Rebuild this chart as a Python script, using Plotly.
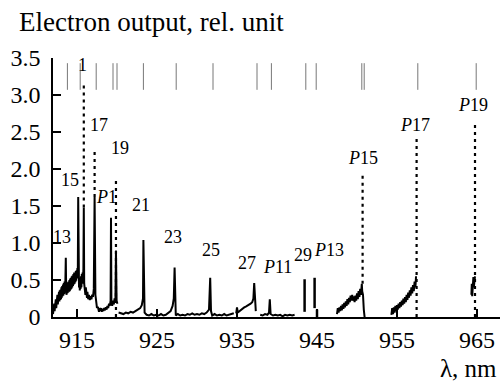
import plotly.graph_objects as go

FONT = "'Liberation Serif', 'Times New Roman', Times, serif"

# ---- spectrum segments (wavelength nm, electron output rel. unit) ----
seg_a_x = [912.00, 912.05, 912.10, 912.15, 912.20, 912.25, 912.30, 912.35, 912.40, 912.45,
           912.50, 912.55, 912.60, 912.65, 912.70, 912.75, 912.80, 912.85, 912.90, 912.95,
           913.00, 913.05, 913.10, 913.15, 913.20, 913.25, 913.30, 913.35, 913.40, 913.45,
           913.50, 913.55, 913.60, 913.65, 913.70, 913.75, 913.80, 913.85, 913.90, 913.95,
           914.00, 914.05, 914.10, 914.15, 914.20, 914.25, 914.30, 914.35, 914.40, 914.45,
           914.50, 914.55, 914.60, 914.65, 914.70, 914.75, 914.80, 914.85, 914.90, 914.95,
           915.00, 915.05, 915.10, 915.15, 915.20, 915.25, 915.30, 915.35, 915.40, 915.45,
           915.50, 915.55, 915.60, 915.65, 915.70, 915.75, 915.80, 915.85, 915.90, 915.95,
           916.00, 916.05, 916.10, 916.15, 916.20, 916.25, 916.30, 916.40, 916.50, 916.60,
           916.70, 916.80, 916.90, 917.00, 917.10, 917.20, 917.30, 917.40, 917.50]
seg_a_y = [0.04, 0.15, 0.06, 0.18, 0.08, 0.22, 0.10, 0.24, 0.12, 0.27,
           0.15, 0.30, 0.17, 0.31, 0.19, 0.34, 0.21, 0.36, 0.23, 0.37,
           0.24, 0.40, 0.26, 0.42, 0.28, 0.44, 0.29, 0.46, 0.31, 0.48,
           0.33, 0.50, 0.80, 0.34, 0.30, 0.46, 0.32, 0.47, 0.33, 0.48,
           0.34, 0.50, 0.35, 0.52, 0.37, 0.53, 0.38, 0.55, 0.40, 0.56,
           0.42, 0.58, 0.44, 0.60, 0.45, 0.60, 0.47, 0.62, 0.49, 0.63,
           0.52, 0.66, 0.55, 1.62, 0.50, 0.40, 0.52, 0.36, 0.50, 0.38,
           0.55, 0.40, 0.58, 0.45, 0.60, 0.50, 0.65, 1.48, 0.45, 0.35,
           0.42, 0.30, 0.40, 0.28, 0.36, 0.26, 0.34, 0.24, 0.30, 0.23,
           0.28, 0.24, 0.30, 0.27, 0.38, 1.62, 0.30, 0.22, 0.12]

seg_b_x = [917.60, 917.65, 917.70, 917.75, 917.80, 917.90, 918.00, 918.10, 918.20, 918.30,
           918.40, 918.50, 918.60, 918.70, 918.80, 918.90, 919.00, 919.10, 919.20, 919.25,
           919.30, 919.40, 919.50, 919.60, 919.70, 919.80, 919.87, 919.95, 920.05]
seg_b_y = [0.14, 0.08, 0.13, 0.07, 0.12, 0.08, 0.12, 0.07, 0.11, 0.08,
           0.12, 0.09, 0.13, 0.10, 0.15, 0.12, 0.18, 0.15, 0.22, 1.34,
           0.20, 0.15, 0.22, 0.17, 0.25, 0.20, 0.90, 0.22, 0.18]

seg_c_x = [920.2, 920.5, 920.8, 921.1, 921.4, 921.7, 922.0, 922.3, 922.6, 922.9,
           923.1, 923.25, 923.3, 923.35, 923.45, 923.7, 924.0, 924.3, 924.6, 924.9,
           925.2, 925.5, 925.8, 926.1, 926.4, 926.7, 926.95, 927.1, 927.2, 927.25,
           927.35, 927.6, 927.9, 928.2, 928.5, 928.8, 929.1, 929.4, 929.7, 930.0,
           930.3, 930.6, 930.9, 931.2, 931.5, 931.65, 931.75, 931.9, 932.2, 932.5,
           932.8, 933.1, 933.4, 933.7, 934.0, 934.3, 934.6]
seg_c_y = [0.06, 0.05, 0.04, 0.06, 0.05, 0.07, 0.06, 0.08, 0.10, 0.12,
           0.16, 0.25, 1.04, 0.20, 0.06, 0.03, 0.02, 0.04, 0.02, 0.03,
           0.02, 0.04, 0.02, 0.03, 0.05, 0.08, 0.15, 0.25, 0.67, 0.10,
           0.02, 0.04, 0.02, 0.03, 0.02, 0.04, 0.03, 0.05, 0.03, 0.04,
           0.03, 0.05, 0.04, 0.06, 0.10, 0.53, 0.08, 0.02, 0.04, 0.02,
           0.03, 0.02, 0.04, 0.02, 0.03, 0.04, 0.05]

seg_d_x = [934.9, 935.0, 935.1, 935.3, 935.5, 935.7, 935.9, 936.1, 936.3, 936.5,
           936.7, 936.9, 937.05, 937.15, 937.25, 937.35]
seg_d_y = [0.05, 0.13, 0.06, 0.08, 0.10, 0.12, 0.13, 0.14, 0.15, 0.16,
           0.18, 0.20, 0.25, 0.46, 0.15, 0.08]

seg_e_x = [937.9, 938.2, 938.5, 938.8, 939.0, 939.1, 939.2, 939.5, 939.8, 940.1,
           940.4, 940.7, 941.0, 941.3, 941.6, 941.9, 942.2]
seg_e_y = [0.03, 0.02, 0.04, 0.03, 0.06, 0.24, 0.04, 0.02, 0.03, 0.02,
           0.03, 0.01, 0.03, 0.02, 0.03, 0.02, 0.03]

seg_f_x = [947.50, 947.60, 947.70, 947.80, 947.90, 948.00, 948.10, 948.20, 948.30, 948.40,
           948.50, 948.60, 948.70, 948.80, 948.90, 949.00, 949.10, 949.20, 949.30, 949.40,
           949.50, 949.60, 949.70, 949.80, 949.90, 950.00, 950.10, 950.20, 950.30, 950.40,
           950.50, 950.60, 950.65, 950.75, 950.85, 950.95]
seg_f_y = [0.04, 0.12, 0.06, 0.13, 0.08, 0.15, 0.09, 0.17, 0.11, 0.19,
           0.13, 0.21, 0.15, 0.24, 0.17, 0.26, 0.20, 0.29, 0.22, 0.30,
           0.22, 0.28, 0.20, 0.29, 0.22, 0.32, 0.24, 0.35, 0.27, 0.38,
           0.30, 0.45, 0.35, 0.30, 0.10, 0.00]

seg_g_x = [954.30, 954.40, 954.50, 954.60, 954.70, 954.80, 954.90, 955.00, 955.10, 955.20,
           955.30, 955.40, 955.50, 955.60, 955.70, 955.80, 955.90, 956.00, 956.10, 956.20,
           956.30, 956.40, 956.50, 956.60, 956.70, 956.80, 956.90, 957.00, 957.10, 957.20,
           957.30, 957.38]
seg_g_y = [0.03, 0.12, 0.04, 0.13, 0.06, 0.15, 0.08, 0.16, 0.10, 0.18,
           0.12, 0.20, 0.14, 0.22, 0.16, 0.25, 0.18, 0.27, 0.20, 0.30,
           0.23, 0.33, 0.26, 0.36, 0.29, 0.40, 0.32, 0.43, 0.35, 0.48,
           0.40, 0.55]

seg_h_x = [964.30, 964.35, 964.40, 964.45, 964.50, 964.55, 964.60, 964.65, 964.70, 964.75]
seg_h_y = [0.30, 0.45, 0.28, 0.50, 0.35, 0.54, 0.40, 0.52, 0.45, 0.55]

segments = [(seg_a_x, seg_a_y), (seg_b_x, seg_b_y), (seg_c_x, seg_c_y),
            (seg_d_x, seg_d_y), (seg_e_x, seg_e_y), (seg_f_x, seg_f_y),
            (seg_g_x, seg_g_y), (seg_h_x, seg_h_y)]

# isolated spikes (29 and P13): position, low, high
spike_x = [943.45, 944.7, 945.0]
spike_lo = [0.07, 0.12, 0.00]
spike_hi = [0.51, 0.53, 0.10]

# dotted (sparsely sampled) peak tops: position, from, to
dot_x = [915.85, 917.2, 919.87, 950.7, 957.45, 964.75]
dot_lo = [1.48, 1.62, 0.00, 0.45, 0.00, 0.00]
dot_hi = [3.15, 2.23, 1.85, 1.95, 2.45, 2.62]

# reference line positions at top
mark_x = [913.8, 915.4, 917.4, 919.5, 920.0, 923.3, 927.4, 932.0,
          937.5, 939.3, 943.6, 944.9, 950.6, 950.9, 957.6, 964.9]
mark_lo, mark_hi = 3.07, 3.43

# peak labels
label_text = ["1", "17", "19", "15", "<i>P</i>1", "21", "13", "23", "25", "27",
              "<i>P</i>11", "29", "<i>P</i>13", "<i>P</i>15", "<i>P</i>17", "<i>P</i>19"]
label_x = [915.7, 917.8, 920.4, 914.1, 918.7, 922.97, 913.1, 927.0, 931.8, 936.3,
           940.1, 943.2, 946.5, 950.7, 957.2, 964.5]
label_y = [3.40, 2.59, 2.28, 1.85, 1.62, 1.51, 1.08, 1.08, 0.905, 0.73,
           0.676, 0.84, 0.905, 2.15, 2.59, 2.86]

x_ticks = [915, 925, 935, 945, 955, 965]
y_ticks = [0, 0.5, 1.0, 1.5, 2.0, 2.5, 3.0, 3.5]
y_tick_text = ["0", "0.5", "1.0", "1.5", "2.0", "2.5", "3.0", "3.5"]

fig = go.Figure()

# top marker lines
mx, my = [], []
for x in mark_x:
    mx += [x, x, None]
    my += [mark_lo, mark_hi, None]
fig.add_trace(go.Scatter(x=mx, y=my, mode="lines",
                         line=dict(color="#777777", width=1), hoverinfo="skip"))

for sx, sy in segments:
    fig.add_trace(go.Scatter(x=sx, y=sy, mode="lines",
                             line=dict(color="black", width=2), hoverinfo="skip"))

kx, ky = [], []
for x, lo, hi in zip(spike_x, spike_lo, spike_hi):
    kx += [x, x, None]
    ky += [lo, hi, None]
fig.add_trace(go.Scatter(x=kx, y=ky, mode="lines",
                         line=dict(color="black", width=2.5), hoverinfo="skip"))

dx, dy = [], []
for x, lo, hi in zip(dot_x, dot_lo, dot_hi):
    dx += [x, x, None]
    dy += [lo, hi, None]
fig.add_trace(go.Scatter(x=dx, y=dy, mode="lines",
                         line=dict(color="black", width=2.2, dash="3px,4px"),
                         hoverinfo="skip"))

for t, x, y in zip(label_text, label_x, label_y):
    fig.add_annotation(x=x, y=y, text=t, showarrow=False,
                       font=dict(family=FONT, size=18, color="black"),
                       xanchor="center", yanchor="middle")

L, R, T, B = 53, 2, 58, 64
W, H = 502, 381
pw, ph = W - L - R, H - T - B

fig.add_annotation(xref="paper", yref="paper", x=(17 - L) / pw, y=(T + ph - 22) / ph,
                   text="Electron output, rel. unit", showarrow=False,
                   xanchor="left", yanchor="middle",
                   font=dict(family=FONT, size=27, color="black"))
fig.add_annotation(xref="paper", yref="paper", x=(499 - L) / pw, y=(T + ph - 384) / ph,
                   text="λ, nm", showarrow=False,
                   xanchor="right", yanchor="bottom",
                   font=dict(family=FONT, size=25, color="black"))

fig.update_layout(
    width=W, height=H,
    margin=dict(l=L, r=R, t=T, b=B),
    paper_bgcolor="white", plot_bgcolor="white",
    showlegend=False,
    font=dict(family=FONT, color="black"),
)
fig.update_xaxes(range=[912, 912 + pw / 8.0], tickvals=x_ticks,
                 ticks="inside", ticklen=8, tickwidth=1.5, tickcolor="black",
                 showline=True, linecolor="black", linewidth=1.5,
                 showgrid=False, zeroline=False,
                 tickfont=dict(family=FONT, size=24, color="black"))
fig.update_yaxes(range=[0, 3.5], tickvals=y_ticks, ticktext=y_tick_text,
                 ticks="inside", ticklen=8, tickwidth=1.5, tickcolor="black",
                 showline=True, linecolor="black", linewidth=1.5,
                 showgrid=False, zeroline=False, ticklabelstandoff=6,
                 tickfont=dict(family=FONT, size=24, color="black"))

fig.write_html("out.html")
